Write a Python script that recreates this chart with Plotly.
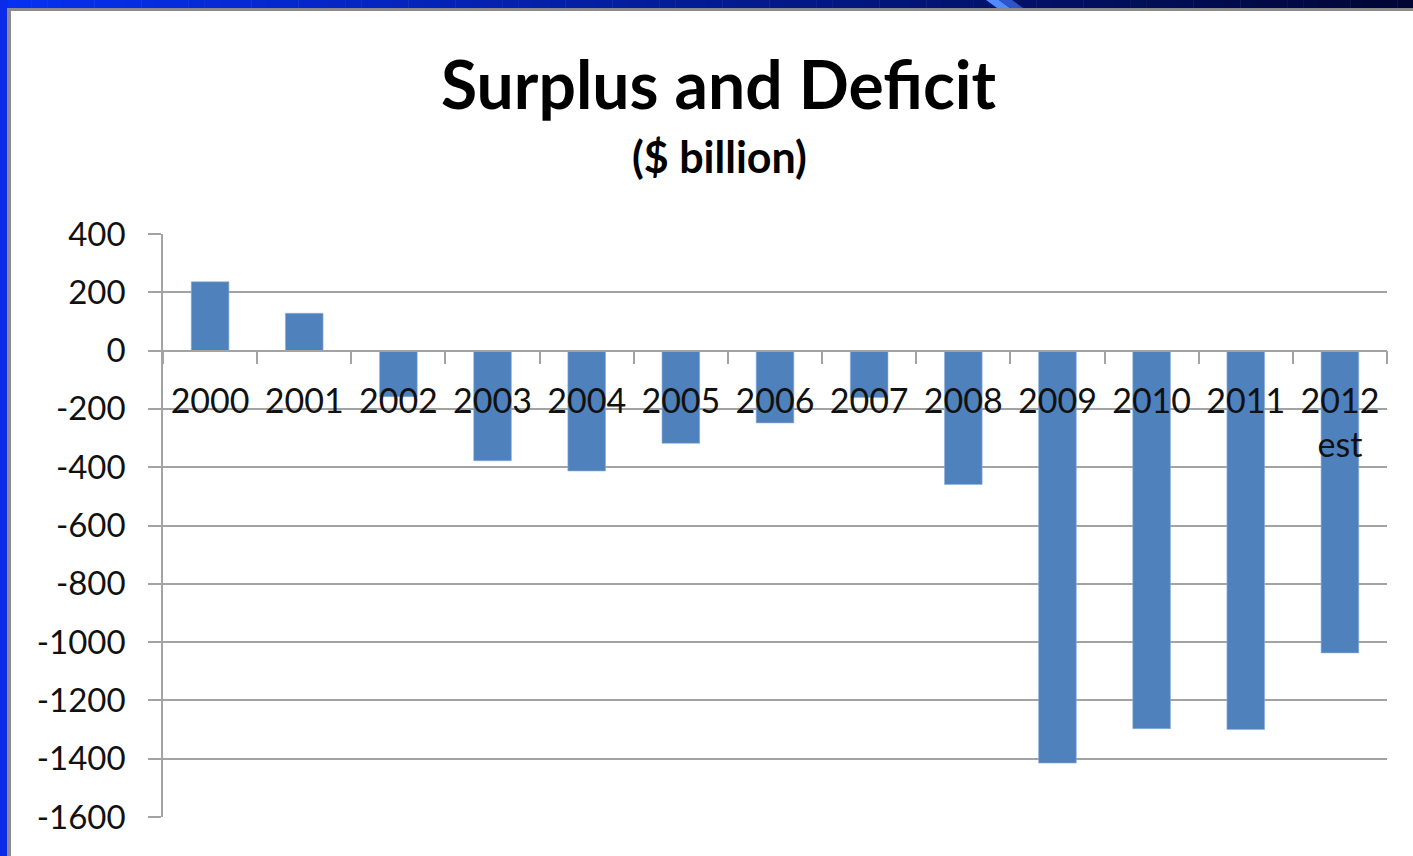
import plotly.graph_objects as go

# Federal budget balance, $ billion
years = ["2000", "2001", "2002", "2003", "2004", "2005", "2006",
         "2007", "2008", "2009", "2010", "2011", "2012<br>est"]
balance = [236, 128, -158, -378, -413, -318, -248, -161, -459,
           -1415, -1297, -1300, -1037]
y_ticks = [400, 200, 0, -200, -400, -600, -800, -1000, -1200, -1400, -1600]

FIG_W, FIG_H = 1413, 856
M_L, M_R, M_T, M_B = 163, 26, 234, 39
PW = FIG_W - M_L - M_R
PH = FIG_H - M_T - M_B

GRID = "#a3a3a3"
BAR = "#4f81bd"
FONT = "Lato"


def fx(p):
    return (p - M_L) / PW


def fy(p):
    return (FIG_H - M_B - p) / PH


fig = go.Figure(go.Bar(
    x=years, y=balance,
    marker=dict(color=BAR, line=dict(color="#8fb0da", width=0.6)),
    width=0.4,
))

shapes = []
# slide frame: gradient band along the top
steps = 90
c0, c1 = (6, 48, 242), (0, 6, 52)
for i in range(steps):
    t = i / (steps - 1)
    col = tuple(round(a + (b - a) * t) for a, b in zip(c0, c1))
    x0 = FIG_W * i / steps
    x1 = FIG_W * (i + 1) / steps + 0.5
    shapes.append(dict(type="rect", xref="paper", yref="paper",
                       x0=fx(x0), x1=fx(x1), y0=fy(8), y1=fy(0),
                       fillcolor="rgb(%d,%d,%d)" % col, line_width=0, layer="above"))
# diagonal accent stroke in the band
shapes.append(dict(type="path", xref="paper", yref="paper",
                   path="M %f,%f L %f,%f L %f,%f L %f,%f Z" % (
                       fx(986), fy(0), fx(999), fy(0), fx(1010), fy(8), fx(997), fy(8)),
                   fillcolor="#4f8cff", line_width=0, layer="above"))
shapes.append(dict(type="path", xref="paper", yref="paper",
                   path="M %f,%f L %f,%f L %f,%f L %f,%f Z" % (
                       fx(999), fy(0), fx(1012), fy(0), fx(1023), fy(8), fx(1010), fy(8)),
                   fillcolor="#2b55c8", line_width=0, layer="above"))
# left blue band
shapes.append(dict(type="rect", xref="paper", yref="paper",
                   x0=fx(0), x1=fx(7.5), y0=fy(FIG_H), y1=fy(0),
                   fillcolor="#0a2be8", line_width=0, layer="above"))
# grey inner border
shapes.append(dict(type="rect", xref="paper", yref="paper",
                   x0=fx(7.5), x1=fx(FIG_W), y0=fy(11), y1=fy(8),
                   fillcolor="#8c8c8c", line_width=0, layer="above"))
shapes.append(dict(type="rect", xref="paper", yref="paper",
                   x0=fx(7.5), x1=fx(11), y0=fy(FIG_H), y1=fy(8),
                   fillcolor="#8c8c8c", line_width=0, layer="above"))

fig.update_layout(
    width=FIG_W, height=FIG_H,
    margin=dict(l=M_L, r=M_R, t=M_T, b=M_B, autoexpand=False),
    paper_bgcolor="white", plot_bgcolor="white",
    showlegend=False,
    bargap=0.6,
    font=dict(family=FONT, color="#111111", size=33),
    shapes=shapes,
    annotations=[
        dict(text="<b>Surplus and Deficit</b>", xref="paper", yref="paper",
             x=fx(719), y=fy(83), xanchor="center", yanchor="middle",
             showarrow=False, font=dict(family=FONT, size=66, color="#000000")),
        dict(text="<b>($ billion)</b>", xref="paper", yref="paper",
             x=fx(719), y=fy(156), xanchor="center", yanchor="middle",
             showarrow=False, font=dict(family=FONT, size=43, color="#000000")),
    ],
    xaxis=dict(
        type="category", anchor="free", position=0.8,
        showline=True, linecolor=GRID, linewidth=1.5,
        ticks="outside", ticklen=13, tickcolor=GRID, tickwidth=1.5,
        tickson="boundaries", showgrid=False,
        tickfont=dict(family=FONT, size=34, color="#111111"),
        ticklabelstandoff=21,
        range=[-0.5, 12.5], automargin=False,
    ),
    yaxis=dict(
        range=[-1600, 400], tickvals=y_ticks, ticktext=[str(v) for v in y_ticks],
        showgrid=True, gridcolor=GRID, gridwidth=1.5,
        zeroline=False,
        showline=True, linecolor=GRID, linewidth=1.5,
        ticks="outside", ticklen=13, tickcolor=GRID, tickwidth=1.5,
        tickfont=dict(family=FONT, size=33, color="#111111"),
        ticklabelstandoff=16, automargin=False,
    ),
)

fig.write_html("out.html")
